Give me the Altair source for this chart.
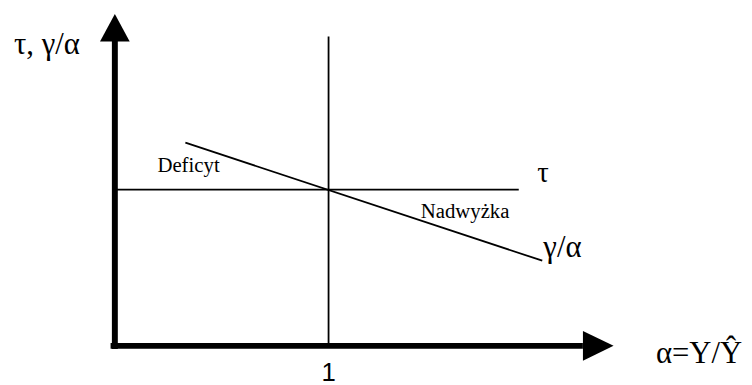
import altair as alt
import pandas as pd

# ---- conceptual diagram values (alpha on x, tau / gamma/alpha on y) ----
# tau: horizontal line at level 1
tau_alpha = [0.0, 1.89]
tau_level = [1.0, 1.0]
# gamma/alpha: declining line crossing tau at alpha = 1
gamma_alpha = [0.33, 2.0]
gamma_value = [1.30, 0.545]
# vertical reference at alpha = 1
one_alpha = [1.0]
one_span = [0.0, 1.98]
# axes (arrow shafts and heads)
xaxis_alpha = [-0.02, 2.19]
yaxis_value = [-0.02, 1.95]
xarrow_pos = [2.262, 0.0]
yarrow_pos = [0.0, 2.035]

# labels
serif_text = ["τ, γ/α", "Deficyt", "Nadwyżka", "τ", "γ/α", "α=Y/Ŷ"]
serif_x = [-0.472, 0.199, 1.431, 1.977, 2.005, 2.532]
serif_y = [1.870, 1.111, 0.820, 1.047, 0.566, -0.111]
serif_size = [31, 21, 21, 29, 31, 31]
sans_text = ["1"]
sans_x = [1.0]
sans_y = [-0.222]
sans_size = [26]

X_DOMAIN = [-0.5, 2.944]
Y_DOMAIN = [-0.2374, 2.1487]
W, H = 744, 377

xs = alt.Scale(domain=X_DOMAIN, nice=False, zero=False)
ys = alt.Scale(domain=Y_DOMAIN, nice=False, zero=False)


def seg(x1, y1, x2, y2):
    return pd.DataFrame({"x": [x1], "y": [y1], "x2": [x2], "y2": [y2]})


def rule(df, width):
    return alt.Chart(df).mark_rule(color="black", strokeWidth=width, strokeCap="butt").encode(
        x=alt.X("x:Q", scale=xs, axis=None),
        y=alt.Y("y:Q", scale=ys, axis=None),
        x2="x2:Q",
        y2="y2:Q",
    )


tau_line = rule(seg(tau_alpha[0], tau_level[0], tau_alpha[1], tau_level[1]), 1.8)
gamma_line = rule(seg(gamma_alpha[0], gamma_value[0], gamma_alpha[1], gamma_value[1]), 1.8)
one_line = rule(seg(one_alpha[0], one_span[0], one_alpha[0], one_span[1]), 1.8)
x_axis = rule(seg(xaxis_alpha[0], 0.0, xaxis_alpha[1], 0.0), 6)
y_axis = rule(seg(0.0, yaxis_value[0], 0.0, yaxis_value[1]), 6)

x_head = alt.Chart(pd.DataFrame({"x": [xarrow_pos[0]], "y": [xarrow_pos[1]]})).mark_point(
    shape="M-1,-0.97L1,0L-1,0.97Z", size=961, filled=True, color="black", opacity=1, strokeWidth=0
).encode(x=alt.X("x:Q", scale=xs, axis=None), y=alt.Y("y:Q", scale=ys, axis=None))

y_head = alt.Chart(pd.DataFrame({"x": [yarrow_pos[0]], "y": [yarrow_pos[1]]})).mark_point(
    shape="M0,-0.93L1,0.93L-1,0.93Z", size=900, filled=True, color="black", opacity=1, strokeWidth=0
).encode(x=alt.X("x:Q", scale=xs, axis=None), y=alt.Y("y:Q", scale=ys, axis=None))

serif_df = pd.DataFrame({"t": serif_text, "x": serif_x, "y": serif_y, "s": serif_size})
serif_labels = alt.Chart(serif_df).mark_text(
    font="Liberation Serif", align="left", baseline="alphabetic", color="black"
).encode(
    x=alt.X("x:Q", scale=xs, axis=None),
    y=alt.Y("y:Q", scale=ys, axis=None),
    text="t:N",
    size=alt.Size("s:Q", scale=None, legend=None),
)

sans_df = pd.DataFrame({"t": sans_text, "x": sans_x, "y": sans_y, "s": sans_size})
sans_labels = alt.Chart(sans_df).mark_text(
    font="Liberation Sans", align="center", baseline="alphabetic", color="black"
).encode(
    x=alt.X("x:Q", scale=xs, axis=None),
    y=alt.Y("y:Q", scale=ys, axis=None),
    text="t:N",
    size=alt.Size("s:Q", scale=None, legend=None),
)

chart = alt.layer(
    tau_line, gamma_line, one_line, x_axis, y_axis, x_head, y_head, serif_labels, sans_labels
).properties(
    width=W, height=H, padding=0, autosize=alt.AutoSizeParams(type="none"), background="white"
).configure_view(stroke=None)

chart.save("out.html", embed_options={"renderer": "svg", "actions": False})
